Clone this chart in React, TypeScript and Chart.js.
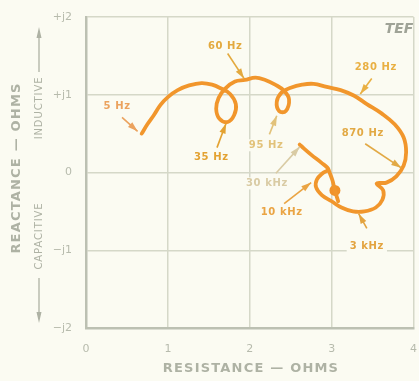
import { useEffect, useRef } from 'react';
import { Chart, registerables } from 'chart.js';

Chart.register(...registerables);

// Impedance locus: resistance (ohms) vs reactance (ohms), in frequency order
const resistance = [
  0.68, 0.75, 0.83, 0.91, 1.0, 1.12, 1.26, 1.41, 1.54, 1.65,
  1.76, 1.83, 1.81, 1.73, 1.63, 1.59, 1.62, 1.7, 1.82, 1.94,
  2.07, 2.19, 2.31, 2.42, 2.48, 2.44, 2.36, 2.33, 2.39, 2.5,
  2.64, 2.78, 2.94, 3.11, 3.27, 3.43, 3.61, 3.77, 3.88, 3.91,
  3.88, 3.79, 3.67, 3.55, 3.63, 3.62, 3.54, 3.4, 3.26, 3.12,
  3.0, 2.88, 2.81, 2.82, 2.89, 2.96, 2.87, 2.76, 2.66, 2.61,
];
const reactance = [
  0.5, 0.62, 0.74, 0.87, 0.97, 1.06, 1.12, 1.15, 1.13, 1.08,
  1.01, 0.88, 0.74, 0.65, 0.69, 0.82, 0.96, 1.08, 1.17, 1.19,
  1.22, 1.19, 1.13, 1.05, 0.94, 0.79, 0.79, 0.91, 1.03, 1.09,
  1.13, 1.14, 1.1, 1.06, 0.99, 0.88, 0.76, 0.62, 0.45, 0.26,
  0.09, -0.05, -0.13, -0.14, -0.23, -0.35, -0.45, -0.5, -0.5, -0.45,
  -0.37, -0.29, -0.19, -0.09, -0.01, 0.04, 0.13, 0.22, 0.31, 0.36,
];
// short branch ending in the dot
const branchResistance = [2.96, 3.01, 3.04, 3.08];
const branchReactance = [0.04, -0.1, -0.23, -0.37];
const dotResistance = [3.04];
const dotReactance = [-0.23];

// frequency call-outs
const freqLabels = ['5 Hz', '60 Hz', '35 Hz', '95 Hz', '280 Hz', '870 Hz', '30 kHz', '10 kHz', '3 kHz'];
const labelR = [0.38, 1.7, 1.53, 2.2, 3.54, 3.38, 2.21, 2.39, 3.43];
const labelX = [0.85, 1.62, 0.19, 0.35, 1.35, 0.5, -0.14, -0.51, -0.95];
const arrowFromR = [0.44, 1.73, 1.6, 2.24, 3.49, 3.41, 2.32, 2.42, 3.43];
const arrowFromX = [0.71, 1.53, 0.32, 0.49, 1.21, 0.37, -0.01, -0.4, -0.72];
const arrowToR = [0.63, 1.93, 1.71, 2.33, 3.35, 3.85, 2.61, 2.75, 3.33];
const arrowToX = [0.53, 1.21, 0.63, 0.73, 1.01, 0.06, 0.33, -0.13, -0.53];
const labelColors = ['#eba25e', '#e3a93e', '#e3a232', '#e2c27a', '#e9b043', '#e2a944', '#d9cba4', '#eaa443', '#e3a33f'];

const xTickValues = [0, 1, 2, 3, 4];
const xTickLabels = ['0', '1', '2', '3', '4'];
const yTickValues = [-2, -1, 0, 1, 2];
const yTickLabels = ['\u2212j2', '\u2212j1', '0', '+j1', '+j2'];

const BG = '#fbfbf2';
const AXIS_TEXT = '#aeb2a4';
const FONT = '"DejaVu Sans", sans-serif';

const annotatePlugin = {
  id: 'annotate',
  beforeDraw(chart: any) {
    const { ctx, width, height } = chart;
    ctx.save();
    ctx.fillStyle = BG;
    ctx.fillRect(0, 0, width, height);
    ctx.restore();
  },
  afterDatasetsDraw(chart: any) {
    const { ctx, scales } = chart;
    const xs = scales.x;
    const ys = scales.y;
    ctx.save();
    // arrows and labels
    for (let i = 0; i < freqLabels.length; i++) {
      const x1 = xs.getPixelForValue(arrowFromR[i]);
      const y1 = ys.getPixelForValue(arrowFromX[i]);
      const x2 = xs.getPixelForValue(arrowToR[i]);
      const y2 = ys.getPixelForValue(arrowToX[i]);
      const ang = Math.atan2(y2 - y1, x2 - x1);
      const col = labelColors[i];
      ctx.strokeStyle = col;
      ctx.fillStyle = col;
      ctx.lineWidth = 1.6;
      ctx.beginPath();
      ctx.moveTo(x1, y1);
      ctx.lineTo(x2, y2);
      ctx.stroke();
      const hl = 10;
      const hw = 3.2;
      const bx = x2 - Math.cos(ang) * hl;
      const by = y2 - Math.sin(ang) * hl;
      ctx.beginPath();
      ctx.moveTo(x2, y2);
      ctx.lineTo(bx + Math.sin(ang) * hw, by - Math.cos(ang) * hw);
      ctx.lineTo(bx - Math.sin(ang) * hw, by + Math.cos(ang) * hw);
      ctx.closePath();
      ctx.fill();

      const lx = xs.getPixelForValue(labelR[i]);
      const ly = ys.getPixelForValue(labelX[i]);
      ctx.font = `bold 10px ${FONT}`;
      (ctx as any).letterSpacing = '0.6px';
      ctx.textAlign = 'center';
      ctx.textBaseline = 'middle';
      const w = ctx.measureText(freqLabels[i]).width;
      ctx.fillStyle = BG;
      ctx.fillRect(lx - w / 2 - 3, ly - 6, w + 6, 12);
      ctx.fillStyle = col;
      ctx.fillText(freqLabels[i], lx, ly);
      (ctx as any).letterSpacing = '0px';
    }

    // TEF mark
    ctx.fillStyle = '#9fa397';
    ctx.font = `italic bold 14px ${FONT}`;
    ctx.textAlign = 'center';
    ctx.textBaseline = 'middle';
    ctx.fillText('TEF', 399, 29);

    // axis titles
    ctx.fillStyle = AXIS_TEXT;
    ctx.strokeStyle = AXIS_TEXT;
    ctx.font = `bold 13px ${FONT}`;
    (ctx as any).letterSpacing = '1.2px';
    ctx.fillText('RESISTANCE \u2014 OHMS', 251, 369);

    ctx.save();
    ctx.translate(17, 168);
    ctx.rotate(-Math.PI / 2);
    ctx.fillText('REACTANCE \u2014 OHMS', 0, 0);
    ctx.restore();

    ctx.font = `10px ${FONT}`;
    (ctx as any).letterSpacing = '0.9px';
    ctx.save();
    ctx.translate(39, 108);
    ctx.rotate(-Math.PI / 2);
    ctx.fillText('INDUCTIVE', 0, 0);
    ctx.restore();
    ctx.save();
    ctx.translate(39, 236);
    ctx.rotate(-Math.PI / 2);
    ctx.fillText('CAPACITIVE', 0, 0);
    ctx.restore();
    (ctx as any).letterSpacing = '0px';

    // direction arrows
    ctx.lineWidth = 1.3;
    ctx.beginPath();
    ctx.moveTo(39, 72);
    ctx.lineTo(39, 34);
    ctx.moveTo(39, 278);
    ctx.lineTo(39, 316);
    ctx.stroke();
    ctx.beginPath();
    ctx.moveTo(39, 27);
    ctx.lineTo(36.5, 38);
    ctx.lineTo(41.5, 38);
    ctx.closePath();
    ctx.moveTo(39, 323);
    ctx.lineTo(36.5, 312);
    ctx.lineTo(41.5, 312);
    ctx.closePath();
    ctx.fill();
    ctx.restore();
  },
};

export default function App() {
  const ref = useRef<HTMLCanvasElement>(null);
  useEffect(() => {
    document.body.style.margin = '0';
    document.body.style.background = BG;
    const canvas = ref.current;
    if (!canvas) return;
    const curve = resistance.map((r, i) => ({ x: r, y: reactance[i] }));
    const branch = branchResistance.map((r, i) => ({ x: r, y: branchReactance[i] }));
    const dot = dotResistance.map((r, i) => ({ x: r, y: dotReactance[i] }));
    const chart = new Chart(canvas, {
      type: 'scatter',
      data: {
        datasets: [
          {
            data: curve,
            showLine: true,
            borderColor: '#f1962c',
            borderWidth: 3.8,
            pointRadius: 0,
            tension: 0.4,
            borderCapStyle: 'round',
            borderJoinStyle: 'round',
          } as any,
          {
            data: branch,
            showLine: true,
            borderColor: '#f1962c',
            borderWidth: 3.8,
            pointRadius: 0,
            tension: 0.3,
            borderCapStyle: 'round',
          } as any,
          {
            data: dot,
            showLine: false,
            pointRadius: 5.5,
            pointBackgroundColor: '#f0922a',
            pointBorderWidth: 0,
          } as any,
        ],
      },
      options: {
        animation: false,
        responsive: false,
        devicePixelRatio: 1,
        layout: { padding: { left: 0, right: 4, top: 17, bottom: 0 } },
        plugins: { legend: { display: false }, tooltip: { enabled: false } },
        scales: {
          x: {
            type: 'linear',
            min: 0,
            max: 4,
            afterFit: (s: any) => {
              s.height = 53;
              s.paddingLeft = 0;
              s.paddingRight = 0;
            },
            afterBuildTicks: (s: any) => {
              s.ticks = xTickValues.map((v) => ({ value: v }));
            },
            ticks: {
              padding: 15,
              color: '#b7bbad',
              font: { family: FONT, size: 11 },
              maxRotation: 0,
              autoSkip: false,
              callback: (v: any) => xTickLabels[xTickValues.indexOf(Number(v))] ?? '',
            },
            grid: { color: '#d5d8c8', lineWidth: 1.5, drawTicks: false },
            border: { color: '#bcc0b2', width: 2.5 },
          },
          y: {
            type: 'linear',
            min: -2,
            max: 2,
            afterFit: (s: any) => {
              s.width = 86;
              s.paddingTop = 0;
              s.paddingBottom = 0;
            },
            afterBuildTicks: (s: any) => {
              s.ticks = yTickValues.map((v) => ({ value: v }));
            },
            ticks: {
              padding: 14,
              color: '#b7bbad',
              font: { family: FONT, size: 11 },
              autoSkip: false,
              callback: (v: any) => yTickLabels[yTickValues.indexOf(Number(v))] ?? '',
            },
            grid: { color: '#d5d8c8', lineWidth: 1.5, drawTicks: false },
            border: { color: '#bcc0b2', width: 2.5 },
          },
        },
      },
      plugins: [annotatePlugin],
    });
    return () => chart.destroy();
  }, []);
  return <canvas ref={ref} width={419} height={381} style={{ display: 'block' }} />;
}
